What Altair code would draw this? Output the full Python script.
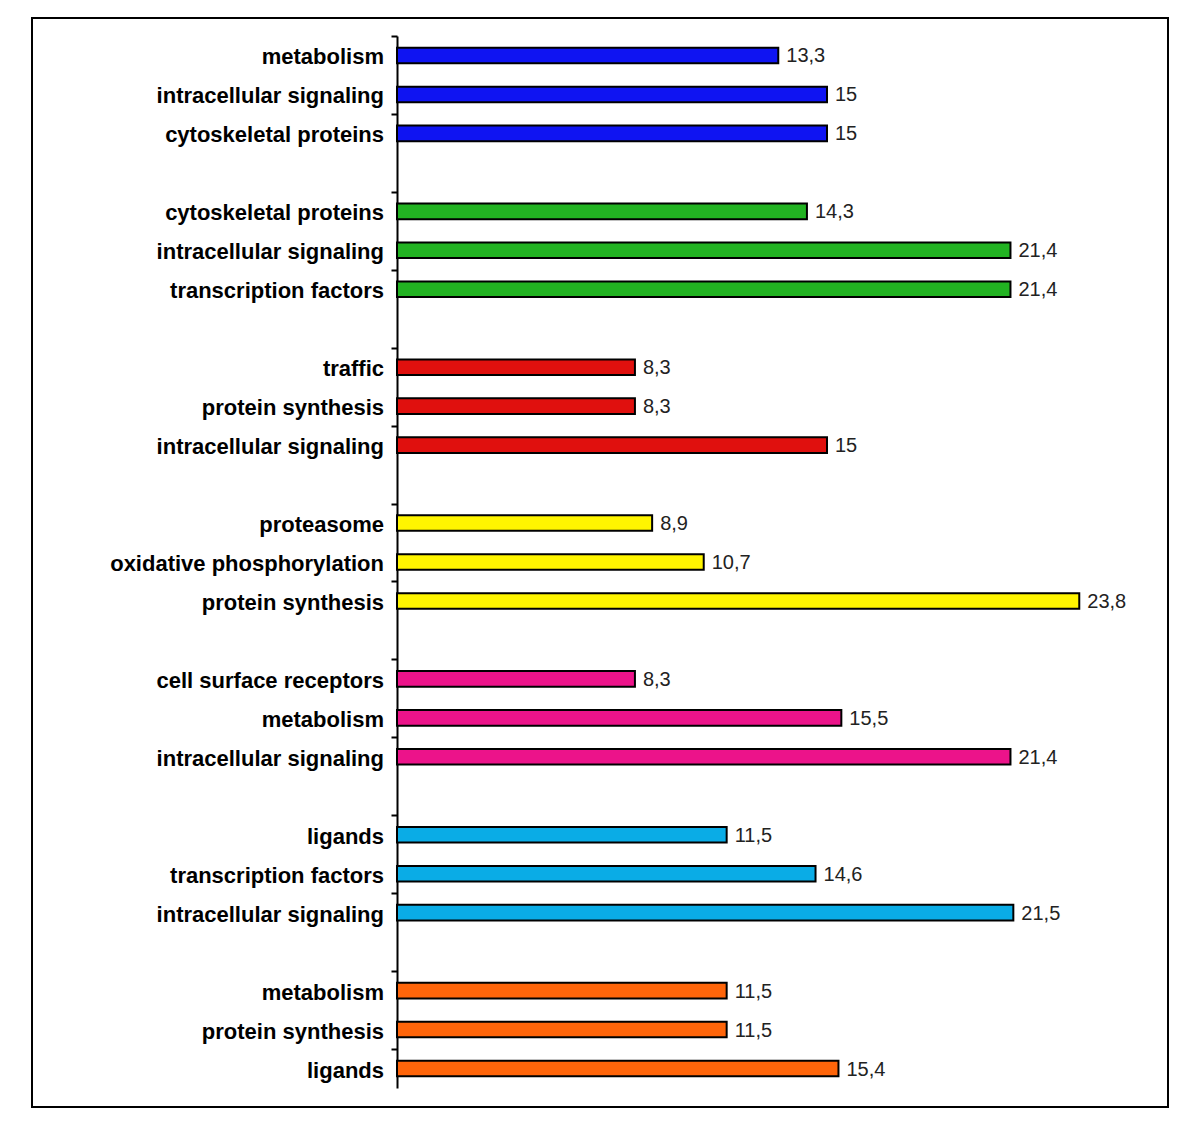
import altair as alt
import pandas as pd

group_colors = ["#0F14F2", "#22B322", "#E0100E", "#FFF500", "#EC138A", "#0AACE6", "#FF650A"]
group_labels = [
    ["metabolism", "intracellular signaling", "cytoskeletal proteins"],
    ["cytoskeletal proteins", "intracellular signaling", "transcription factors"],
    ["traffic", "protein synthesis", "intracellular signaling"],
    ["proteasome", "oxidative phosphorylation", "protein synthesis"],
    ["cell surface receptors", "metabolism", "intracellular signaling"],
    ["ligands", "transcription factors", "intracellular signaling"],
    ["metabolism", "protein synthesis", "ligands"],
]
group_values = [
    [13.3, 15, 15],
    [14.3, 21.4, 21.4],
    [8.3, 8.3, 15],
    [8.9, 10.7, 23.8],
    [8.3, 15.5, 21.4],
    [11.5, 14.6, 21.5],
    [11.5, 11.5, 15.4],
]

rows = []
for g, (labs, vals) in enumerate(zip(group_labels, group_values)):
    for j, (lab, v) in enumerate(zip(labs, vals)):
        slot = g * 4 + j
        rows.append({
            "group": str(g),
            "label": lab,
            "value": v,
            "vtext": (f"{v:g}").replace(".", ","),
            "y0": slot + 0.3,
            "y1": slot + 0.7,
            "yc": slot + 0.5,
        })
df = pd.DataFrame(rows)

yscale = alt.Scale(domain=[0, 27], reverse=True, nice=False, zero=False, padding=0)
xscale = alt.Scale(domain=[0, 25.5], nice=False, padding=0)

base = alt.Chart(df)

bars = base.mark_bar(stroke="black", strokeWidth=2, orient="horizontal").encode(
    x=alt.X("value:Q", scale=xscale, axis=None),
    x2=alt.datum(0),
    y=alt.Y("y0:Q", scale=yscale,
            axis=alt.Axis(values=list(range(28)), labels=False, title=None, grid=False,
                          domainColor="black", domainWidth=2, tickColor="black",
                          tickWidth=2, tickSize=6)),
    y2="y1:Q",
    fill=alt.Fill("group:N", scale=alt.Scale(domain=[str(i) for i in range(7)],
                                             range=group_colors), legend=None),
)

vlabels = base.mark_text(align="left", baseline="middle", dx=8, dy=1, fontSize=20,
                         font="Liberation Sans", color="#222222").encode(
    x=alt.X("value:Q", scale=xscale),
    y=alt.Y("yc:Q", scale=yscale),
    text="vtext:N",
)

clabels = base.mark_text(align="right", baseline="middle", dy=2, fontSize=22, fontWeight="bold",
                         font="Liberation Sans", color="black").encode(
    x=alt.value(-13),
    y=alt.Y("yc:Q", scale=yscale),
    text="label:N",
)

frame = alt.Chart(pd.DataFrame({"a": [0]})).mark_rect(
    fill=None, stroke="black", strokeWidth=2).encode(
    x=alt.value(-365), x2=alt.value(771), y=alt.value(-18), y2=alt.value(1071))

chart = alt.layer(bars, vlabels, clabels, frame).properties(
    width=731, height=1052,
    autosize=alt.AutoSizeParams(type="none"),
    padding={"left": 389, "top": 28, "right": 56, "bottom": 34},
).configure(background="white").configure_view(stroke=None)

chart.save("out.html", embed_options={"renderer": "svg", "actions": False})
